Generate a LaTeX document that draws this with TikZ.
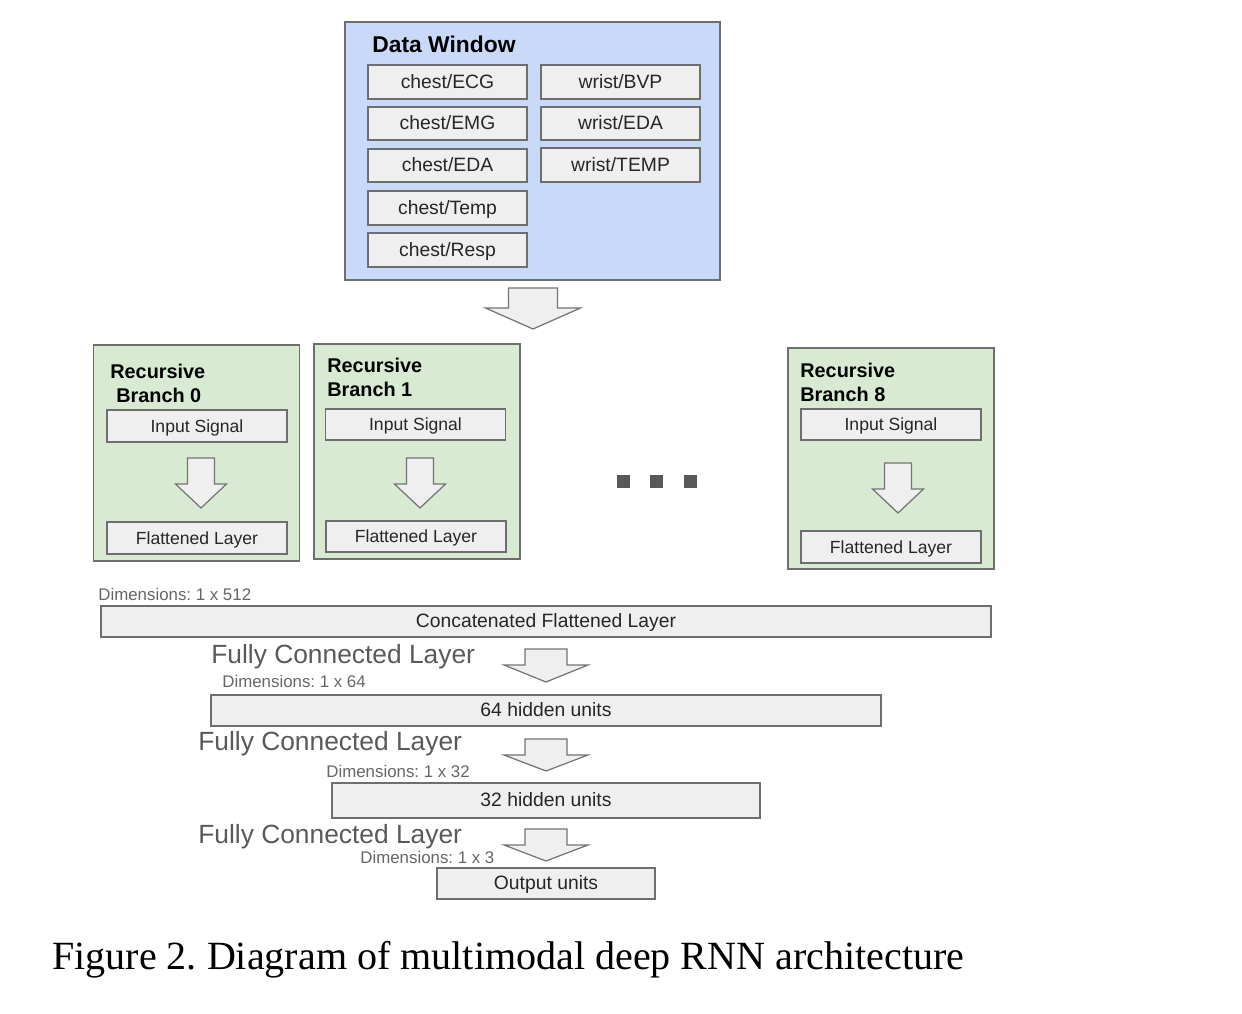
\documentclass[tikz,border=0pt]{standalone}
\usepackage{fontspec}
\setmainfont{Liberation Serif}
\setsansfont{Liberation Sans}
\frenchspacing
\usetikzlibrary{positioning}
\definecolor{winblue}{HTML}{C9DAF8}
\definecolor{branchgreen}{HTML}{D9EAD3}
\definecolor{boxgray}{HTML}{EFEFEF}
\definecolor{edgegray}{HTML}{6E6E6E}
\definecolor{fcgray}{HTML}{595959}
\definecolor{dimgray}{HTML}{666666}
\tikzset{
    panel/.style={draw=edgegray, line width=0.9pt, inner sep=0pt},
    window/.style={panel, fill=winblue},
    branch/.style={panel, fill=branchgreen, minimum width=4.12cm},
    linebox/.style={text height=0.905em, text depth=0.212em},
    cell/.style={draw=edgegray, line width=0.9pt, fill=boxgray, inner sep=0pt,
                 linebox, text=black!85, font=\sffamily\fontsize{11}{13}\selectfont},
    channel/.style={cell, minimum width=3.18cm, minimum height=0.67cm},
    branchbox/.style={cell, minimum width=3.6cm, minimum height=0.63cm,
                      font=\sffamily\fontsize{10}{12}\selectfont},
    widebox/.style={cell, minimum height=0.62cm},
    heading/.style={font=\sffamily\bfseries\fontsize{13}{15}\selectfont,
                    linebox, anchor=west, inner sep=0pt},
    branchtitle/.style={font=\sffamily\bfseries\fontsize{11.3}{13.6}\selectfont,
                        align=left, anchor=north west, inner sep=0pt},
    fclabel/.style={font=\sffamily\fontsize{15}{18}\selectfont, text=fcgray,
                    linebox, anchor=west, inner sep=0pt},
    dimlabel/.style={font=\sffamily\fontsize{9.6}{11}\selectfont, text=dimgray,
                     linebox, anchor=west, inner sep=0pt},
    ellipsisdot/.style={fill=black!65, minimum size=0.26cm, inner sep=0pt},
    pics/blockarrow/.style n args={4}{code={
        \draw[draw=black!55, line width=0.7pt, fill=boxgray, line join=miter]
            (-#1,0) -- (#1,0) -- (#1,#3) -- (#2,#3) -- (0,#4) -- (-#2,#3)
            -- (-#1,#3) -- cycle;
    }},
}

\begin{document}
\begin{tikzpicture}[x=0.02cm, y=-0.02cm]
    \useasboundingbox (0,0) rectangle (1242,1014);

    % data window
    \node[window, minimum width=7.5cm, minimum height=5.16cm] (window) at (532.5,151) {};
    \node[heading] (windowtitle) at (372,46) {Data Window};
    \node[channel] (ecg) at (447.5,82) {chest/ECG};
    \node[channel] (emg) at (447.5,123.5) {chest/EMG};
    \node[channel] (cheda) at (447.5,165.5) {chest/EDA};
    \node[channel] (temp) at (447.5,208) {chest/Temp};
    \node[channel] (resp) at (447.5,250) {chest/Resp};
    \node[channel] (bvp) at (620.5,82) {wrist/BVP};
    \node[channel] (wreda) at (620.5,123.5) {wrist/EDA};
    \node[channel] (wrtemp) at (620.5,165) {wrist/TEMP};

    \pic at (533,288) {blockarrow={24.5}{47.5}{20}{41}};

    % recursive branches
    \node[branch, minimum height=4.32cm] (branch0) at (196.5,453) {};
    \node[branchtitle] (title0) at (110,364) {Recursive\\\hspace*{0.12cm}Branch 0};
    \node[branchbox] (input0) at (197,426) {Input Signal};
    \node[branchbox] (flat0) at (197,538) {Flattened Layer};
    \pic at (201,458) {blockarrow={13.5}{25.5}{26}{50}};

    \node[branch, minimum height=4.3cm] (branch1) at (417,451.5) {};
    \node[branchtitle] (title1) at (327,358) {Recursive\\Branch 1};
    \node[branchbox] (input1) at (415.5,424.5) {Input Signal};
    \node[branchbox] (flat1) at (416,536.5) {Flattened Layer};
    \pic at (420,458) {blockarrow={13.5}{25.5}{26}{50}};

    \node[ellipsisdot] (dota) at (623.5,481.5) {};
    \node[ellipsisdot] (dotb) at (656.5,481.5) {};
    \node[ellipsisdot] (dotc) at (690,481.5) {};

    \node[branch, minimum height=4.42cm] (branch8) at (891,458.5) {};
    \node[branchtitle] (title8) at (800,363) {Recursive\\Branch 8};
    \node[branchbox] (input8) at (891,424.5) {Input Signal};
    \node[branchbox] (flat8) at (891,547) {Flattened Layer};
    \pic at (898,463) {blockarrow={13.5}{25.5}{26}{50}};

    % dense layers
    \node[dimlabel] (dim512) at (98,594) {Dimensions: 1 x 512};
    \node[widebox, minimum width=17.8cm] (concat) at (546,621.5) {Concatenated Flattened Layer};

    \node[fclabel] (fc1) at (211,657) {Fully Connected Layer};
    \node[dimlabel] (dim64) at (222,681) {Dimensions: 1 x 64};
    \pic at (546,649) {blockarrow={21}{42}{16}{33}};
    \node[widebox, minimum width=13.4cm] (hidden64) at (546,710.5) {64 hidden units};

    \node[fclabel] (fc2) at (198,744) {Fully Connected Layer};
    \node[dimlabel] (dim32) at (326,771) {Dimensions: 1 x 32};
    \pic at (546,739) {blockarrow={21}{42}{16}{32}};
    \node[widebox, minimum width=8.56cm, minimum height=0.7cm] (hidden32) at (546,800.5) {32 hidden units};

    \node[fclabel] (fc3) at (198,837) {Fully Connected Layer};
    \node[dimlabel] (dim3) at (360,857) {Dimensions: 1 x 3};
    \pic at (546,829) {blockarrow={21}{42}{16}{32}};
    \node[widebox, minimum width=4.36cm] (output) at (546,883.5) {Output units};

    \node[anchor=west, inner sep=0pt, font=\rmfamily\fontsize{22.8}{26}\selectfont] (caption) at (52,960)
        {Figure 2. Diagram of multimodal deep RNN architecture};

\end{tikzpicture}
\end{document}
